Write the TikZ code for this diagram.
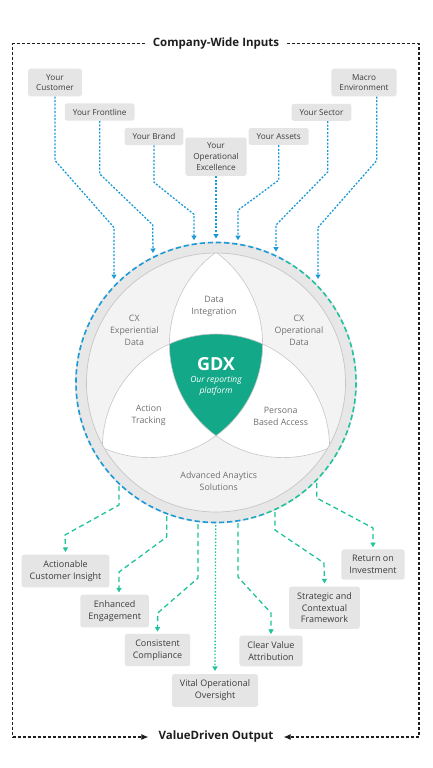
\documentclass[tikz,border=0pt]{standalone}
\usepackage{fontspec}
\setmainfont{Open Sans}
\usetikzlibrary{arrows.meta}
\definecolor{inblue}{HTML}{1B9AD8}
\definecolor{outgreen}{HTML}{1FC39C}
\definecolor{gdxgreen}{HTML}{13A888}
\definecolor{boxgray}{HTML}{E5E5E5}
\definecolor{ringgray}{HTML}{E7E7E7}
\definecolor{areagray}{HTML}{F3F3F3}
\definecolor{linegray}{HTML}{C6C6C6}
\definecolor{boxtext}{HTML}{3C3C3C}
\definecolor{areatext}{HTML}{707070}
\definecolor{framec}{HTML}{1E1E1E}
\begin{document}
\begin{tikzpicture}[x=1pt,y=-1pt,line join=round,
		inbox/.style={fill=boxgray,rounded corners=2.5pt,text=boxtext,align=center,font=\fontsize{8.2}{10.7}\selectfont,inner xsep=8pt,inner ysep=5.5pt},
		outbox/.style={inbox,font=\fontsize{9}{11.7}\selectfont,inner ysep=6pt},
		inarrow/.style={inblue,line width=1.3pt,dash pattern=on 2pt off 1.6pt,-{Triangle[length=4.5pt,width=5pt]}},
		outarrow/.style={outgreen,line width=1.3pt,dash pattern=on 5pt off 3.5pt,-{Triangle[length=4.5pt,width=5pt]}},
		frame/.style={framec,line width=1.1pt,dash pattern=on 3pt off 2pt},
		heading/.style={text=framec,font=\bfseries\fontsize{11.5}{14}\selectfont},
		area/.style={text=areatext,align=center,font=\fontsize{8.8}{12}\selectfont}]
	\useasboundingbox[fill=white] (0,0) rectangle (432,768);
	\coordinate (ctr) at (216,382.5);
	\coordinate (ul) at (149,344);
	\coordinate (ur) at (283,344);
	\coordinate (bt) at (216,447.6);
	\def\rv{113.6}
	\fill[ringgray] (ctr) circle (141);
	\fill[areagray] (ctr) circle (129.5);
	\begin{scope}
		\clip (ctr) circle (129.5);
		\begin{scope}\clip (ul) circle (\rv); \fill[white] (ur) circle (\rv); \end{scope}
		\begin{scope}\clip (ul) circle (\rv); \fill[white] (bt) circle (\rv); \end{scope}
		\begin{scope}\clip (ur) circle (\rv); \fill[white] (bt) circle (\rv); \end{scope}
		\begin{scope}\clip (ul) circle (\rv); \clip (ur) circle (\rv); \fill[gdxgreen] (bt) circle (\rv); \end{scope}
		\foreach \c in {ul,ur,bt}
			\draw[linegray,line width=0.6pt] (\c) circle (\rv);
	\end{scope}
	\draw[linegray,line width=0.7pt] (ctr) circle (129.5);
	\foreach \a in {0,10,...,350}{
		\pgfmathsetmacro\t{int(max(0,min(100,500*(cos(-\a+2)-0.3))))}
		\draw[outgreen!\t!inblue,line width=1.6pt,dash pattern=on 5.14pt off 3pt] ([shift={(\a:140)}]ctr) arc[start angle=\a,end angle=\a+10,radius=140];
	}
	\node[text=white,font=\bfseries\fontsize{18}{18}\selectfont] (gdx) at (216,364.5) {GDX};
	\node[text=white,align=center,font=\itshape\fontsize{8.5}{11}\selectfont] (gdxsub) at (216,386) {Our reporting\\platform};
	\node[area] (dint) at (214,306) {Data\\Integration};
	\node[area] (cxe) at (134.3,330) {CX\\Experiential\\Data};
	\node[area] (cxo) at (299,330) {CX\\Operational\\Data};
	\node[area] (act) at (148.7,415.7) {Action\\Tracking};
	\node[area] (pers) at (280.7,416) {Persona\\Based Access};
	\node[area] (adv) at (218.7,481) {Advanced Anaytics\\Solutions};
	\node[heading,fill=white,inner xsep=8pt] (ttl) at (216,43.7) {Company-Wide Inputs};
	\node[heading,fill=white,inner xsep=10pt] (vout) at (216,737) {ValueDriven Output};
	\coordinate (ftl) at (12.5,43.7);
	\coordinate (ftr) at (419,43.7);
	\coordinate (fbl) at (12.5,737);
	\coordinate (fbr) at (419,737);
	\draw[frame] (ttl.west) -- (ftl) -- (fbl);
	\draw[frame] (ttl.east) -- (ftr) -- (fbr);
	\draw[frame,-{Latex[length=7pt,width=6pt]}] (fbl) -- (vout.west);
	\draw[frame,-{Latex[length=7pt,width=6pt]}] (fbr) -- (vout.east);
	\node[inbox] (cust) at (55,82.5) {Your\\Customer};
	\node[inbox] (front) at (99.7,112) {Your Frontline};
	\node[inbox] (brand) at (154,136.5) {Your Brand};
	\node[inbox] (opex) at (216,156.7) {Your\\Operational\\Excellence};
	\node[inbox] (assets) at (278.7,136.5) {Your Assets};
	\node[inbox] (sector) at (321.5,112.3) {Your Sector};
	\node[inbox] (macro) at (364,82.5) {Macro\\Environment};
	\coordinate (cust-in) at (114,279);
	\coordinate (front-in) at (153,253);
	\coordinate (brand-in) at (194,240.2);
	\coordinate (opex-in) at (216,238.5);
	\coordinate (assets-in) at (238,240.2);
	\coordinate (sector-in) at (276,251.6);
	\coordinate (macro-in) at (318,279);
	\draw[inarrow] (cust.south) -- ++(0,64) -- ++(59,67) -- (cust-in);
	\draw[inarrow] (front.south) -- ++(0,53) -- ++(53,51) -- (front-in);
	\draw[inarrow] (brand.south) -- ++(0,37) -- ++(40,32) -- (brand-in);
	\draw[inarrow] (opex.south) -- (opex-in);
	\draw[inarrow] (assets.south) -- ++(0,35) -- ++(-40.7,30) -- (assets-in);
	\draw[inarrow] ([xshift=6.2pt]sector.south) -- ++(0,51) -- ++(-51.7,53) -- (sector-in);
	\draw[inarrow] ([xshift=12.7pt]macro.south) -- ++(0,64) -- ++(-58.7,67) -- (macro-in);
	\node[outbox] (aci) at (65.5,571) {Actionable\\Customer Insight};
	\node[outbox] (enh) at (114.7,611) {Enhanced\\Engagement};
	\node[outbox] (comp) at (157.5,650) {Consistent\\Compliance};
	\node[outbox] (vital) at (215,690.5) {Vital Operational\\Oversight};
	\node[outbox] (clear) at (271,651) {Clear Value\\Attribution};
	\node[outbox] (strat) at (324.5,607.7) {Strategic and\\Contextual\\Framework};
	\node[outbox] (roi) at (373,564.5) {Return on\\Investment};
	\coordinate (aci-out) at (119,486);
	\coordinate (enh-out) at (166.7,516);
	\coordinate (comp-out) at (198,524);
	\coordinate (vital-out) at (215.7,525);
	\coordinate (clear-out) at (238,523);
	\coordinate (strat-out) at (275,512);
	\coordinate (roi-out) at (316.7,483);
	\draw[outarrow] (aci-out) -- ++(0,19) -- ++(-54,30) -- ([yshift=2.5pt]aci.north);
	\draw[outarrow] (enh-out) -- ++(0,21) -- ++(-47.7,35) -- ([xshift=4.3pt,yshift=2pt]enh.north);
	\draw[outarrow] (comp-out) -- ++(0,54) -- ++(-40.3,35) -- ([yshift=2pt]comp.north);
	\draw[outarrow,dash pattern=on 1.5pt off 1.8pt] (vital-out) -- ([yshift=3pt]vital.north);
	\draw[outarrow] (clear-out) -- ++(0,54) -- ++(33,36) -- ([yshift=1.5pt]clear.north);
	\draw[outarrow] (strat-out) -- ++(0,18) -- ++(49,33) -- ([yshift=3pt]strat.north);
	\draw[outarrow] (roi-out) -- ++(0,15) -- ++(56.3,30) -- ([yshift=2pt]roi.north);
\end{tikzpicture}
\end{document}
